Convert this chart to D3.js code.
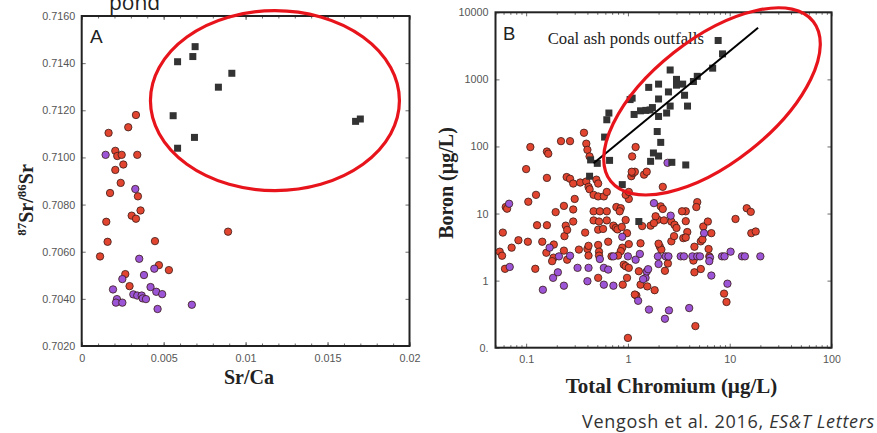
<!DOCTYPE html>
<html>
<head>
<meta charset="utf-8">
<script src="https://cdn.jsdelivr.net/npm/d3@7"></script>
<style>
  body { margin: 0; background: #fff; }
  svg { display: block; }
</style>
</head>
<body>
<script>
// panel A: Sr/Ca vs 87Sr/86Sr
const aRed = [[0.00331,0.71180],[0.00164,0.71104],[0.00284,0.71128],[0.00205,0.71028],[0.00217,0.71006],
  [0.00244,0.71011],[0.00339,0.71011],[0.00254,0.70970],[0.00205,0.70947],[0.00238,0.70892],[0.00173,0.70849],
  [0.00343,0.70835],[0.00359,0.70775],[0.00305,0.70753],[0.00331,0.70740],[0.00150,0.70727],[0.00158,0.70642],
  [0.00447,0.70645],[0.00112,0.70580],[0.00893,0.70685],[0.00471,0.70543],[0.00532,0.70522],[0.00266,0.70505],
  [0.00292,0.70454]];
const aPurple = [[0.00146,0.71011],[0.00327,0.70866],[0.00351,0.70570],[0.00380,0.70501],[0.00443,0.70528],
  [0.00248,0.70484],[0.00191,0.70440],[0.00215,0.70399],[0.00209,0.70384],[0.00248,0.70384],[0.00315,0.70419],
  [0.00339,0.70414],[0.00366,0.70414],[0.00372,0.70402],[0.00392,0.70399],[0.00420,0.70450],[0.00455,0.70430],
  [0.00491,0.70420],[0.00463,0.70357],[0.00672,0.70375]];
const aAsh = [[0.00585,0.71406],[0.00678,0.71428],[0.00692,0.71470],[0.00916,0.71357],[0.00834,0.71298],
  [0.00558,0.71177],[0.00585,0.71039],[0.00688,0.71085],[0.01671,0.71153],[0.01700,0.71163]];
const aXTicks = [0, 0.005, 0.01, 0.015, 0.02];
const aXLabels = ["0", "0.005", "0.01", "0.015", "0.02"];
const aYTicks = [0.702, 0.704, 0.706, 0.708, 0.710, 0.712, 0.714, 0.716];
const aYLabels = ["0.7020", "0.7040", "0.7060", "0.7080", "0.7100", "0.7120", "0.7140", "0.7160"];
const aCircle = [0.01179, 0.71241];

// panel B: total chromium vs boron
const bRed = [[0.27,120],[0.22,120],[0.37,160],[0.39,110],[0.40,89],[0.42,71],[0.11,98],[0.16,84],[0.165,78],
  [0.10,46],[0.16,34],[0.25,35],[0.27,33],[0.29,28],[0.34,29],[0.39,30],[0.41,25],[0.42,23],[0.49,32],[0.51,28],
  [0.46,19],[0.51,18],[0.58,18],[0.62,21],[0.125,19],[0.105,15],[0.30,16.5],[0.235,13],[0.195,10.5],[0.29,11.5],
  [0.46,10.8],[0.53,10.8],[0.62,10.8],[0.77,12.5],[0.85,12],[0.83,10.8],[1.02,16.5],[0.95,19],[1.02,21],[1.08,36],
  [1.12,40],[1.17,42],[1.09,42],[1.1,71],[1.19,98],[1.44,38],[1.53,42],[2.2,25],[0.063,12.5],[0.065,11.8],
  [0.059,5.2],[0.055,2.7],[0.058,2.35],[0.062,1.5],[0.072,3.1],[0.084,4.0],[0.104,3.8],[0.128,6.7],[0.16,6.7],
  [0.144,3.8],[0.158,2.6],[0.187,3.45],[0.186,2.2],[0.18,1.95],[0.123,1.5],[0.245,6.6],[0.238,4.6],[0.253,5.7],
  [0.29,7.6],[0.235,2.8],[0.253,2.05],[0.33,2.9],[0.38,5.2],[0.40,2.96],[0.41,3.3],[0.41,2.36],[0.46,7.9],
  [0.52,7.6],[0.62,7.9],[0.72,6.6],[0.51,5.75],[0.57,5.9],[0.51,3.4],[0.52,2.7],[0.52,2.36],[0.51,1.1],[0.64,3.8],
  [0.76,6.1],[0.79,5.8],[0.87,6.3],[0.69,2.3],[0.88,3.1],[0.85,2.75],[0.80,2.36],[0.91,1.73],[0.95,1.64],
  [0.89,0.87],[1.02,3.5],[1.02,1.55],[0.98,1.1],[1.28,1.38],[1.33,3.6],[1.21,0.6],[1.33,0.87],[1.83,0.72],
  [1.55,0.82],[1.67,6.6],[1.97,8.1],[2.06,3.2],[2.13,2.9],[2.31,1.4],[2.47,1.8],[2.67,3.85],[2.67,7.6],[2.87,6.8],
  [3.0,6.1],[2.84,4.6],[3.5,4.3],[3.7,10.8],[3.83,5.3],[4.4,1.99],[4.5,1.33],[5.2,1.49],[4.5,3.2],[4.8,14.8],
  [4.7,12.5],[5.5,6.4],[6.1,7.6],[6.6,5.1],[6.2,2.96],[6.3,2.3],[11.4,8.3],[14.7,12.0],[16.1,10.6],[16.3,5.1],
  [18,5.4],[8.8,0.64],[9.3,0.48],[4.6,0.21],[1.17,0.62],[1.0,0.14],[0.95,8.0],[2.1,12.8],[2.2,11.7],[1.87,9.1],
  [2.26,7.9],[1.8,7.2],[1.38,6.5],[3.4,10.8],[3.7,7.7],[3.7,4.4],[5.2,3.85],[5.4,4.1],[0.98,5.1],[2.0,3.55]];
const bPurple = [[0.068,14],[0.069,1.6],[0.17,3.1],[0.184,1.1],[0.205,1.33],[0.21,2.3],[0.27,2.35],[0.235,0.84],
  [0.146,0.73],[0.32,1.55],[0.41,1.55],[0.40,0.98],[0.53,2.1],[0.58,1.55],[0.64,1.46],[0.58,0.87],[0.72,0.84],
  [0.88,4.5],[0.72,2.3],[1.0,2.3],[1.19,2.05],[1.31,2.5],[1.26,0.5],[1.49,1.1],[1.53,1.37],[1.58,1.48],[1.61,0.37],
  [1.41,1.05],[1.97,2.3],[2.0,1.77],[2.35,2.3],[2.5,2.3],[3.3,2.3],[3.55,2.3],[4.3,2.3],[4.8,2.3],[5.1,2.3],
  [5.6,5.1],[6.4,2.2],[6.3,1.95],[6.6,1.19],[8.4,2.3],[8.9,2.3],[10.2,2.7],[13.2,2.3],[14.1,2.3],[20,2.3],
  [9.5,0.9],[4.0,0.39],[2.53,0.36],[2.31,0.27],[1.8,14.3],[2.63,9.3],[2.45,57]];
const bAsh = [[7.7,3800],[8.5,2400],[6.8,1470],[2.6,1380],[3.0,1000],[4.8,1110],[4.4,930],[2.0,850],[1.6,760],
  [3.0,820],[3.45,850],[2.5,650],[3.6,580],[2.0,510],[1.1,525],[1.05,500],[3.85,400],[2.6,400],[1.74,380],
  [2.4,315],[1.33,340],[1.15,300],[1.5,345],[1.65,350],[2.0,280],[0.65,315],[0.62,250],[0.59,138],[1.94,167],
  [2.1,115],[1.78,80],[2.0,72],[1.67,60],[2.7,58],[3.7,53],[0.43,63],[0.50,56],[0.66,62],[0.42,36],[0.88,27],
  [1.28,7.6]];
const bTrend = [[0.46, 56], [19, 5900]];
const bXTicks = [0.1, 1, 10, 100];
const bXLabels = ["0.1", "1", "10", "100"];
const bYTicks = [0.1, 1, 10, 100, 1000, 10000];
const bYLabels = ["0.", "1", "10", "100", "1000", "10000"];
const bCircle = [6.7, 470];

const W = 877, H = 433;
const red = "#e2452f", purple = "#9b55d6", ash = "#333", ring = "#e8141c";
const tickFont = "'Liberation Sans', Arial, sans-serif";
const serif = "'Liberation Serif', 'Times New Roman', serif";

const svg = d3.select("body").append("svg")
  .attr("width", W).attr("height", H);
svg.append("rect").attr("width", W).attr("height", H).attr("fill", "#fff");

// draw frame, inward ticks and labels for one panel
function drawFrame(g, x, y, xt, xl, yt, yl, xMinor, yPad, clipId) {
  const [x0, x1] = x.range(), [y0, y1] = y.range();
  const lab = g.append("g").attr("clip-path", clipId ? "url(#" + clipId + ")" : null);

  lab.append("g").attr("transform", "translate(0," + y0 + ")")
    .call(d3.axisBottom(x).tickValues(xt).tickFormat((d, i) => xl[i]).tickSize(-4).tickSizeOuter(0).tickPadding(8));
  g.append("g").attr("transform", "translate(" + x0 + ",0)")
    .call(d3.axisLeft(y).tickValues(yt).tickFormat((d, i) => yl[i]).tickSize(-4).tickSizeOuter(0).tickPadding(yPad));
  g.append("g").attr("transform", "translate(0," + y1 + ")")
    .call(d3.axisTop(x).tickValues(xt).tickFormat("").tickSize(-4).tickSizeOuter(0));
  g.append("g").attr("transform", "translate(" + x1 + ",0)")
    .call(d3.axisRight(y).tickValues(yt).tickFormat("").tickSize(-4).tickSizeOuter(0));
  g.append("g").attr("transform", "translate(0," + y0 + ")")
    .call(d3.axisBottom(x).tickValues(xMinor).tickFormat("").tickSize(-2.5).tickSizeOuter(0));
  g.append("g").attr("transform", "translate(0," + y1 + ")")
    .call(d3.axisTop(x).tickValues(xMinor).tickFormat("").tickSize(-2.5).tickSizeOuter(0));

  g.selectAll(".domain").remove();
  g.selectAll(".tick line").attr("stroke", "#444").attr("stroke-width", 0.8);
  g.selectAll(".tick text").attr("fill", "#555").style("font-family", tickFont).style("font-size", "10.8px");

  g.append("rect")
    .attr("x", x0).attr("y", y1).attr("width", x1 - x0).attr("height", y0 - y1)
    .attr("fill", "none").attr("stroke", "#222").attr("stroke-width", 2);
}

function dots(g, data, x, y, fill) {
  g.selectAll(null).data(data).enter().append("circle")
    .attr("cx", d => x(d[0])).attr("cy", d => y(d[1])).attr("r", 3.7)
    .attr("fill", fill).attr("stroke", "#3a1a16").attr("stroke-width", 0.8);
}
function squares(g, data, x, y) {
  g.selectAll(null).data(data).enter().append("rect")
    .attr("x", d => x(d[0]) - 3.5).attr("y", d => y(d[1]) - 3.5)
    .attr("width", 7).attr("height", 7).attr("fill", ash);
}

// ---------- panel A ----------
const xA = d3.scaleLinear().domain([0, 0.02]).range([81.7, 409.5]);
const yA = d3.scaleLinear().domain([0.702, 0.716]).range([346, 16]);
const gA = svg.append("g");
drawFrame(gA, xA, yA, aXTicks, aXLabels, aYTicks, aYLabels, d3.range(0, 0.0201, 0.001), 6.5);
dots(gA, aRed, xA, yA, red);
dots(gA, aPurple, xA, yA, purple);
squares(gA, aAsh, xA, yA);

gA.append("ellipse")
  .attr("cx", xA(aCircle[0])).attr("cy", yA(aCircle[1]))
  .attr("rx", 124.5).attr("ry", 90)
  .attr("fill", "none").attr("stroke", ring).attr("stroke-width", 3.2);

gA.append("text").attr("x", 90).attr("y", 42.7)
  .style("font-family", tickFont).style("font-size", "19px").attr("fill", "#222").text("A");

gA.append("text").attr("x", 249).attr("y", 384).attr("text-anchor", "middle")
  .style("font-family", serif).style("font-weight", "bold").style("font-size", "20px").attr("fill", "#222")
  .text("Sr/Ca");

const yTitle = gA.append("text").attr("transform", "translate(33,200) rotate(-90)").attr("text-anchor", "middle")
  .style("font-family", serif).style("font-weight", "bold").style("font-size", "20px").attr("fill", "#222");
yTitle.append("tspan").attr("baseline-shift", "super").style("font-size", "13px").text("87");
yTitle.append("tspan").text("Sr/");
yTitle.append("tspan").attr("baseline-shift", "super").style("font-size", "13px").text("86");
yTitle.append("tspan").text("Sr");

svg.append("text").attr("x", 109).attr("y", 10)
  .style("font-family", "'Open Sans', sans-serif").style("font-size", "21px").attr("fill", "#222").text("pond");

// ---------- panel B ----------
svg.append("clipPath").attr("id", "clipB").append("rect")
  .attr("x", 420).attr("y", 0).attr("width", 420.7).attr("height", 400);

const xB = d3.scaleLog().domain([0.05, 100]).range([495.5, 831.5]);
const yB = d3.scaleLog().domain([0.1, 10000]).range([347.7, 12.3]);
const gB = svg.append("g");
const bMinor = [];
[0.01, 0.1, 1, 10].forEach(p => d3.range(2, 10).forEach(k => { if (p * k >= 0.05 && p * k <= 100) bMinor.push(p * k); }));
drawFrame(gB, xB, yB, bXTicks, bXLabels, bYTicks, bYLabels, bMinor, 7, "clipB");

dots(gB, bRed, xB, yB, red);
dots(gB, bPurple, xB, yB, purple);
squares(gB, bAsh, xB, yB);

gB.append("text").attr("x", 547.7).attr("y", 44)
  .style("font-family", serif).style("font-size", "16.7px").attr("fill", "#222")
  .text("Coal ash ponds outfalls");

gB.append("path")
  .attr("d", d3.line().x(d => xB(d[0])).y(d => yB(d[1]))(bTrend))
  .attr("stroke", "#000").attr("stroke-width", 2).attr("fill", "none");

gB.append("ellipse")
  .attr("transform", "translate(" + xB(bCircle[0]) + "," + yB(bCircle[1]) + ") rotate(-38.3)")
  .attr("rx", 129).attr("ry", 62)
  .attr("fill", "none").attr("stroke", ring).attr("stroke-width", 3.2);

gB.append("text").attr("x", 503).attr("y", 40)
  .style("font-family", tickFont).style("font-size", "18.5px").attr("fill", "#222").text("B");

gB.append("text").attr("transform", "translate(453,183) rotate(-90)").attr("text-anchor", "middle")
  .style("font-family", serif).style("font-weight", "bold").style("font-size", "20px").attr("fill", "#222")
  .text("Boron (µg/L)");

gB.append("text").attr("x", 671.5).attr("y", 393).attr("text-anchor", "middle")
  .style("font-family", serif).style("font-weight", "bold").style("font-size", "21px").attr("fill", "#222")
  .text("Total Chromium (µg/L)");

// source line
const cap = svg.append("text").attr("x", 582).attr("y", 427.5)
  .style("font-family", "'Open Sans', sans-serif").style("font-size", "18px")
  .style("letter-spacing", "0.7px").attr("fill", "#333");
cap.append("tspan").text("Vengosh et al. 2016, ");
cap.append("tspan").style("font-style", "italic").text("ES&T Letters");
</script>
</body>
</html>
